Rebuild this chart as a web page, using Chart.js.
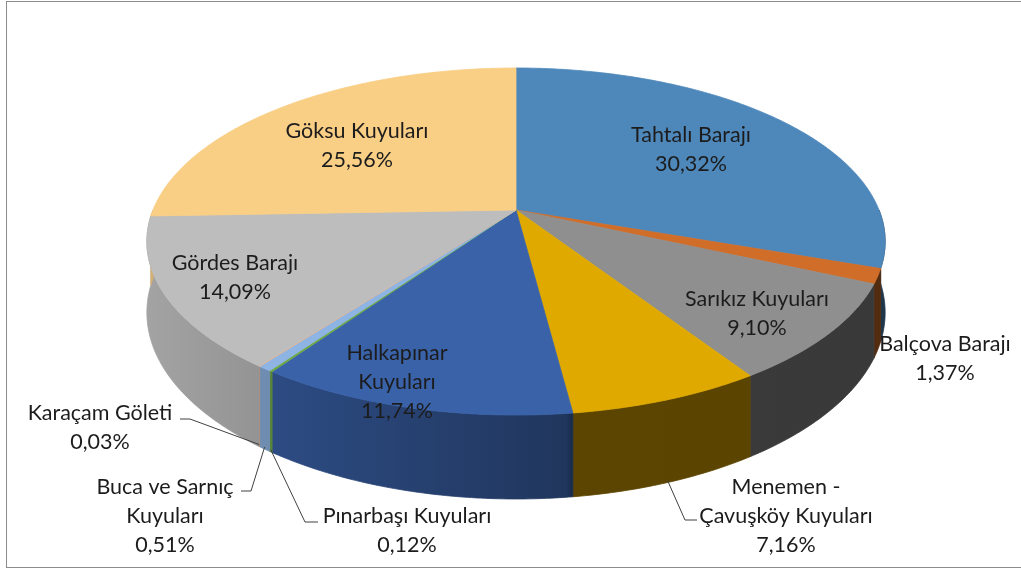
<!DOCTYPE html>
<html lang="tr">
<head>
    <meta charset="UTF-8">
    <title>Su Kaynakları Dağılımı</title>
    <script src="https://cdn.jsdelivr.net/npm/chart.js"></script>
    <style>
        body {
            margin: 0;
            background: #ffffff;
            overflow: hidden;
        }
        .frame {
            position: absolute;
            left: 6px;
            top: 1px;
            width: 1100px;
            height: 565px;
            border: 1px solid #8c8c8c;
        }
        #pieChart {
            position: absolute;
            left: 0;
            top: 0;
        }
    </style>
</head>
<body>
    <div class="frame"></div>
    <canvas id="pieChart" width="1021" height="569"></canvas>
    <script>
        // data, clockwise from 12 o'clock
        const sources = ['Tahtalı Barajı', 'Balçova Barajı', 'Sarıkız Kuyuları', 'Menemen - Çavuşköy Kuyuları',
            'Halkapınar Kuyuları', 'Pınarbaşı Kuyuları', 'Buca ve Sarnıç Kuyuları', 'Karaçam Göleti',
            'Gördes Barajı', 'Göksu Kuyuları'];
        const shares = [30.32, 1.37, 9.10, 7.16, 11.74, 0.12, 0.51, 0.03, 14.09, 25.56];
        const sliceColors = ['#4e88bb', '#d06d29', '#8f8f8f', '#e0a900', '#3a62a9',
            '#6faa46', '#8eb4e3', '#f4b183', '#bdbdbd', '#f9ce85'];

        // how the label text wraps (same words as sources)
        const labelLines = [
            ['Tahtalı Barajı'], ['Balçova Barajı'], ['Sarıkız Kuyuları'], ['Menemen -', 'Çavuşköy Kuyuları'],
            ['Halkapınar', 'Kuyuları'], ['Pınarbaşı Kuyuları'], ['Buca ve Sarnıç', 'Kuyuları'], ['Karaçam Göleti'],
            ['Gördes Barajı'], ['Göksu Kuyuları']
        ];

        // layout of the tilted pie (perspective projection of the circle)
        const CX = 516, CY = 210, RX = 363, RY = 167.8, PERSP = 0.1816, DEPTH = 68.7;
        // label centre of first line, line gap
        const labelAt = [[691, 135], [945, 344], [757, 299], [786, 487], [397, 353],
            [407, 516], [165, 487], [100, 413], [235, 263], [357, 131]];
        const LINE_H = 29;
        // leader lines: text side elbow points (null = no leader)
        const leaderText = [null, null, null, [[685, 520], [697, 520]], null,
            [[305, 522], [318, 522]], [[251, 491], [241, 491]], [[190, 419], [180, 419]], null, null];
        // side brightness along x
        const sideLight = [[147, 0.86], [265, 0.78], [566, 0.55], [574, 0.41], [885, 0.40]];

        function proj(t, rho) {
            const u = rho * Math.cos(t), v = rho * Math.sin(t);
            const w = 1 - PERSP * v;
            return [CX + RX * u / w, CY + RY * v / w];
        }
        function projBottom(t) {
            const p = proj(t, 1);
            const w = 1 - PERSP * Math.sin(t);
            return [p[0], p[1] + DEPTH / w];
        }
        function shade(hex, f) {
            const n = parseInt(hex.slice(1), 16);
            const r = Math.round(((n >> 16) & 255) * f);
            const g = Math.round(((n >> 8) & 255) * f);
            const b = Math.round((n & 255) * f);
            return `rgb(${r},${g},${b})`;
        }
        function rimPath(ctx, a1, a2, fn, first) {
            const steps = Math.max(2, Math.ceil(Math.abs(a2 - a1) / 0.01));
            for (let s = 0; s <= steps; s++) {
                const p = fn(a1 + (a2 - a1) * s / steps);
                if (first && s === 0) ctx.moveTo(p[0], p[1]); else ctx.lineTo(p[0], p[1]);
            }
        }

        const pie3d = {
            id: 'pie3d',
            beforeDatasetsDraw(chart) {
                const ctx = chart.ctx;
                const arcs = chart.getDatasetMeta(0).data;
                const bg = chart.data.datasets[0].backgroundColor;
                const x0 = sideLight[0][0], x1 = sideLight[sideLight.length - 1][0];
                ctx.save();
                ctx.lineJoin = 'round';

                // side wall, front half only
                arcs.forEach((arc, i) => {
                    const a1 = Math.max(arc.startAngle, 0), a2 = Math.min(arc.endAngle, Math.PI);
                    if (a2 <= a1) return;
                    const grad = ctx.createLinearGradient(x0, 0, x1, 0);
                    sideLight.forEach(([x, f]) => grad.addColorStop((x - x0) / (x1 - x0), shade(bg[i], f)));
                    ctx.beginPath();
                    rimPath(ctx, a1, a2, t => proj(t, 1), true);
                    rimPath(ctx, a2, a1, projBottom, false);
                    ctx.closePath();
                    ctx.fillStyle = grad;
                    ctx.strokeStyle = grad;
                    ctx.lineWidth = 0.8;
                    ctx.fill();
                    ctx.stroke();
                });

                // top face
                arcs.forEach((arc, i) => {
                    const c = proj(0, 0);
                    ctx.beginPath();
                    ctx.moveTo(c[0], c[1]);
                    rimPath(ctx, arc.startAngle, arc.endAngle, t => proj(t, 1), false);
                    ctx.closePath();
                    ctx.fillStyle = bg[i];
                    ctx.strokeStyle = bg[i];
                    ctx.lineWidth = 0.8;
                    ctx.fill();
                    ctx.stroke();
                });
                ctx.restore();
                return false;
            },
            afterDraw(chart) {
                const ctx = chart.ctx;
                const arcs = chart.getDatasetMeta(0).data;
                const values = chart.data.datasets[0].data;
                ctx.save();

                // leader lines
                ctx.strokeStyle = '#404040';
                ctx.lineWidth = 1;
                arcs.forEach((arc, i) => {
                    if (!leaderText[i]) return;
                    const mid = (arc.startAngle + arc.endAngle) / 2;
                    const p = projBottom(mid);
                    ctx.beginPath();
                    ctx.moveTo(p[0], p[1] - 2);
                    leaderText[i].forEach(q => ctx.lineTo(q[0], q[1]));
                    ctx.stroke();
                });

                ctx.fillStyle = '#1c1c1c';
                ctx.font = '21.5px Lato, "Open Sans", sans-serif';
                ctx.textAlign = 'center';
                ctx.textBaseline = 'middle';
                labelLines.forEach((lines, i) => {
                    const [x, y] = labelAt[i];
                    const all = lines.concat([values[i].toFixed(2).replace('.', ',') + '%']);
                    all.forEach((txt, k) => ctx.fillText(txt, x, y + k * LINE_H));
                });
                ctx.restore();
            }
        };

        new Chart(document.getElementById('pieChart').getContext('2d'), {
            type: 'pie',
            data: {
                labels: sources,
                datasets: [{
                    data: shares,
                    backgroundColor: sliceColors,
                    borderWidth: 0
                }]
            },
            options: {
                responsive: false,
                animation: false,
                events: [],
                plugins: {
                    legend: { display: false },
                    tooltip: { enabled: false }
                }
            },
            plugins: [pie3d]
        });
    </script>
</body>
</html>
